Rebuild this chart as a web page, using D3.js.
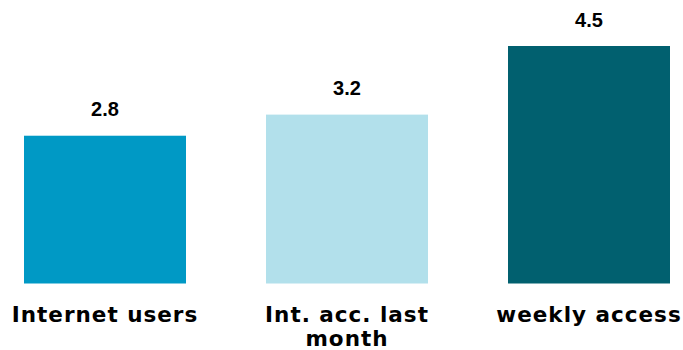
<!DOCTYPE html>
<html>
<head>
<meta charset="utf-8">
<script src="https://cdn.jsdelivr.net/npm/d3@7"></script>
<style>
  html, body { margin: 0; padding: 0; background: #fff; }
  svg { display: block; }
</style>
</head>
<body>
<svg id="chart" width="683" height="350"></svg>
<script>
// Chart data
const categories = ["Internet users", "Int. acc. last month", "weekly access"];
const values = [2.8, 3.2, 4.5];
const colors = ["#0099C5", "#B2E0EB", "#01606F"];

const svg = d3.select("#chart");
const baseline = 283.5;

const x = d3.scaleBand()
  .domain(categories)
  .range([24, 670])
  .paddingInner(0.3306)
  .paddingOuter(0);

const y = d3.scaleLinear()
  .domain([0, 4.5])
  .range([baseline, 46]);

// Bars
svg.append("g")
  .selectAll("rect")
  .data(categories)
  .join("rect")
  .attr("x", d => x(d))
  .attr("y", (d, i) => y(values[i]))
  .attr("width", x.bandwidth())
  .attr("height", (d, i) => baseline - y(values[i]))
  .attr("fill", (d, i) => colors[i]);

// Value labels above bars
svg.append("g")
  .selectAll("text")
  .data(categories)
  .join("text")
  .attr("x", d => x(d) + x.bandwidth() / 2)
  .attr("y", (d, i) => y(values[i]) - 19.5)
  .attr("text-anchor", "middle")
  .attr("font-family", "'Liberation Sans', Arial, sans-serif")
  .attr("font-weight", "bold")
  .attr("font-size", "20px")
  .attr("fill", "#000")
  .text((d, i) => values[i].toFixed(1));

// Category labels along the x axis, wrapped to fit
const axis = d3.axisBottom(x).tickSize(0).tickPadding(0);
const axisG = svg.append("g")
  .attr("transform", `translate(0,${baseline})`)
  .call(axis);
axisG.select(".domain").remove();
axisG.selectAll(".tick text")
  .attr("y", 38.5)
  .attr("dy", 0)
  .attr("font-family", "'DejaVu Sans', Verdana, sans-serif")
  .attr("font-weight", "bold")
  .attr("font-size", "21.5px")
  .attr("letter-spacing", "1px")
  .attr("fill", "#000")
  .each(function() {
    const text = d3.select(this);
    const words = text.text().split(/\s+/);
    const maxWidth = 205;
    const lineHeight = 23.5;
    text.text(null);
    let line = [];
    let lineNo = 0;
    let tspan = text.append("tspan").attr("x", 0).attr("y", 38.5);
    for (const w of words) {
      line.push(w);
      tspan.text(line.join(" "));
      if (tspan.node().getComputedTextLength() > maxWidth && line.length > 1) {
        line.pop();
        tspan.text(line.join(" "));
        line = [w];
        lineNo++;
        tspan = text.append("tspan").attr("x", 0).attr("y", 38.5 + lineNo * lineHeight).text(w);
      }
    }
  });
</script>
</body>
</html>
